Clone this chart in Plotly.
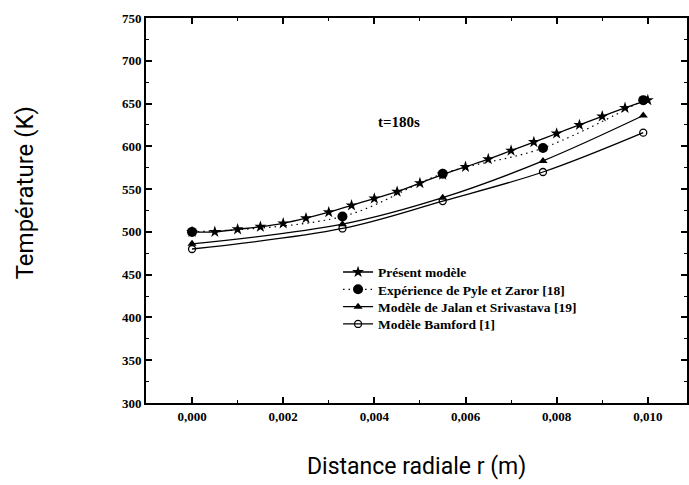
import plotly.graph_objects as go

# Data
r_present = [0.0, 0.0005, 0.001, 0.0015, 0.002, 0.0025, 0.003, 0.0035, 0.004, 0.0045,
             0.005, 0.0055, 0.006, 0.0065, 0.007, 0.0075, 0.008, 0.0085, 0.009, 0.0095, 0.010]
T_present = [500, 500, 503, 506, 510, 516, 523, 531, 539, 547,
             557, 567, 576, 585, 595, 605, 615, 625, 635, 645, 654]

r_exp = [0.0, 0.0033, 0.0055, 0.0077, 0.0099]
T_exp = [500, 518, 568, 598, 654]

r_jalan = [0.0, 0.0033, 0.0055, 0.0077, 0.0099]
T_jalan = [486, 509, 540, 583, 636]

r_bamford = [0.0, 0.0033, 0.0055, 0.0077, 0.0099]
T_bamford = [480, 504, 536, 570, 616]

x_ticks = [0.0, 0.002, 0.004, 0.006, 0.008, 0.010]
y_ticks = [300, 350, 400, 450, 500, 550, 600, 650, 700, 750]

serif = "Liberation Serif, Times New Roman, serif"
cond = "Roboto, Liberation Sans, sans-serif"

fig = go.Figure()
fig.add_trace(go.Scatter(
    x=r_present, y=T_present, mode="lines+markers", name="Présent modèle",
    legend="legend",
    line=dict(color="black", width=1.3, shape="spline"),
    marker=dict(symbol="star", size=9, color="black")))
fig.add_trace(go.Scatter(
    x=r_exp, y=T_exp, mode="lines+markers", name="Expérience de Pyle et Zaror [18]",
    legend="legend2",
    line=dict(color="black", width=1.2, dash="1.5px,4px", shape="spline"),
    marker=dict(symbol="circle", size=10, color="black")))
fig.add_trace(go.Scatter(
    x=r_jalan, y=T_jalan, mode="lines+markers", name="Modèle de Jalan et Srivastava [19]",
    legend="legend3",
    line=dict(color="black", width=1.3, shape="spline"),
    marker=dict(symbol="triangle-up", size=8, color="black")))
fig.add_trace(go.Scatter(
    x=r_bamford, y=T_bamford, mode="lines+markers", name="Modèle Bamford [1]",
    legend="legend4",
    line=dict(color="black", width=1.3, shape="spline"),
    marker=dict(symbol="circle-open", size=7, color="black", line=dict(width=1.3))))

fig.add_annotation(x=0.00455, y=628, text="<b>t=180s</b>", showarrow=False,
                   font=dict(family=serif, size=15, color="black"))

# Axis titles placed as annotations (paper coords)
fig.add_annotation(xref="paper", yref="paper", x=0.5, y=-0.165, yanchor="middle",
                   text="Distance radiale r (m)", showarrow=False,
                   font=dict(family=cond, size=23, color="black"))
fig.add_annotation(xref="paper", yref="paper", x=-0.222, y=0.547, xanchor="center",
                   yanchor="middle", textangle=-90,
                   text="Température (K)", showarrow=False,
                   font=dict(family=cond, size=24, color="black"))

leg_font = dict(family=serif, size=13.5, color="black", weight="bold")
leg_common = dict(x=0.355, xanchor="left", yanchor="top", font=leg_font,
                  bgcolor="rgba(0,0,0,0)")

fig.update_layout(
    width=689, height=485,
    margin=dict(l=146, r=0, t=18, b=82),
    paper_bgcolor="white", plot_bgcolor="white",
    separators=", ",
    showlegend=True,
    legend=dict(y=0.380, **leg_common),
    legend2=dict(y=0.335, **leg_common),
    legend3=dict(y=0.290, **leg_common),
    legend4=dict(y=0.245, **leg_common),
    font=dict(family=serif, color="black"),
)
fig.update_xaxes(
    range=[-0.00101, 0.01086], tickvals=x_ticks, tickformat=".3f",
    ticks="inside", ticklen=6, tickwidth=1.5, tickcolor="black",
    minor=dict(dtick=0.001, tick0=0.0, ticks="inside", ticklen=3, tickwidth=1.2, tickcolor="black"),
    showline=True, linecolor="black", linewidth=2, mirror="ticks",
    showgrid=False, zeroline=False,
    tickfont=dict(family=serif, size=13, color="black", weight="bold"),
)
fig.update_yaxes(
    range=[300, 750], tickvals=y_ticks,
    ticks="inside", ticklen=6, tickwidth=1.5, tickcolor="black",
    minor=dict(dtick=25, tick0=300, ticks="inside", ticklen=3, tickwidth=1.2, tickcolor="black"),
    showline=True, linecolor="black", linewidth=2, mirror="ticks",
    showgrid=False, zeroline=False,
    tickfont=dict(family=serif, size=13, color="black", weight="bold"),
)

fig.write_html("out.html")
